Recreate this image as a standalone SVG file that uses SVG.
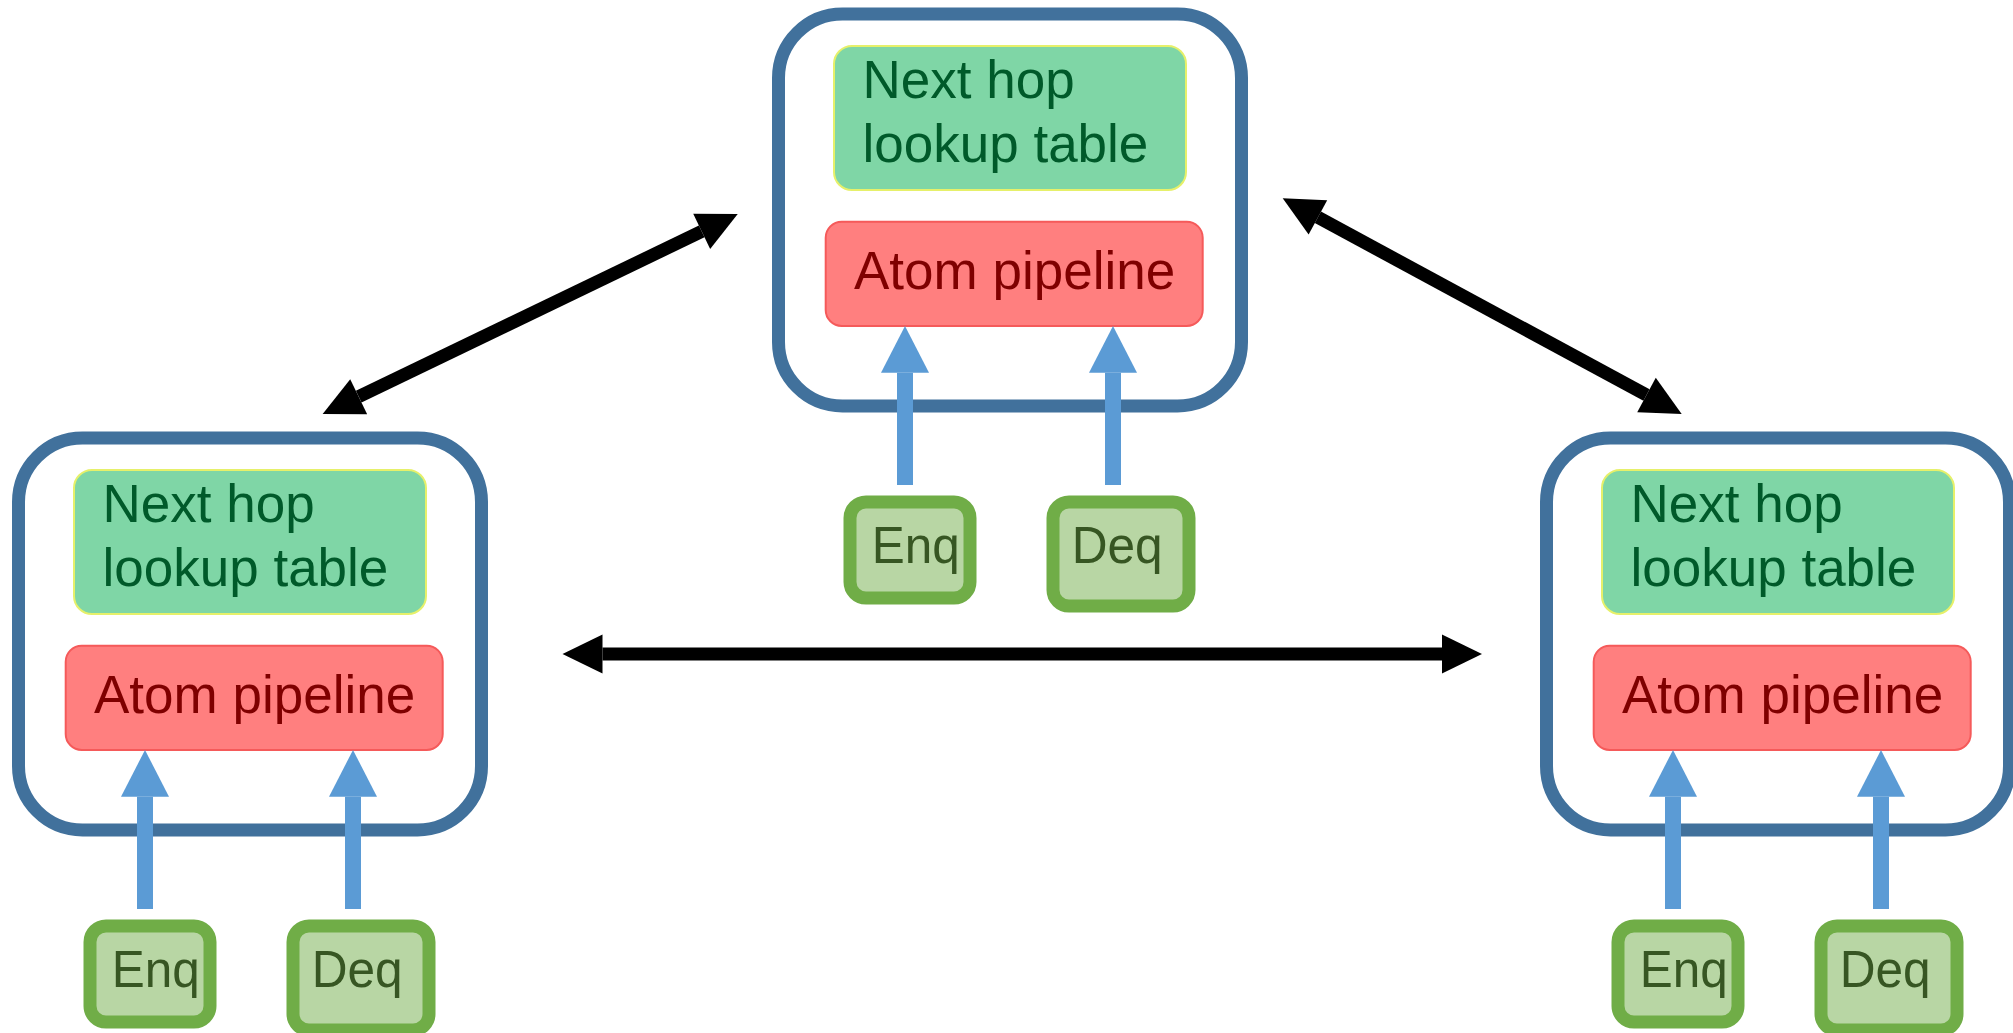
<svg xmlns="http://www.w3.org/2000/svg" width="2013" height="1033" viewBox="0 0 2013 1033">
  <style>
    .frame { fill: #ffffff; stroke: #41719c; stroke-width: 13; }
    .table { fill: #7fd6a6; stroke: #e6f06a; stroke-width: 2; }
    .pipe { fill: #ff7f7f; stroke: #f55a5a; stroke-width: 2; }
    .port { fill: #b8d6a4; stroke: #70ad47; stroke-width: 13; }
    .lbl { font-family: "Liberation Sans", Arial, Helvetica, sans-serif; }
    .t-table { font-size: 53px; fill: #005a2a; }
    .t-pipe { font-size: 53px; fill: #7f0000; }
    .t-port { font-size: 52px; fill: #375623; }
    .link { stroke: #000000; stroke-width: 13; fill: none; marker-start: url(#blackHead); marker-end: url(#blackHead); }
    .feed { stroke: #5b9bd5; stroke-width: 16; fill: none; marker-end: url(#blueHead); }
  </style>
  <defs>
    <marker id="blackHead" markerUnits="userSpaceOnUse" markerWidth="42" markerHeight="42" viewBox="0 -21 42 42" refX="0" refY="0" orient="auto-start-reverse" overflow="visible">
      <path d="M0,-19.5 L40,0 L0,19.5 Z" fill="#000000"/>
    </marker>
    <marker id="blueHead" markerUnits="userSpaceOnUse" markerWidth="48" markerHeight="50" viewBox="0 -25 48 50" refX="0" refY="0" orient="auto" overflow="visible">
      <path d="M0,-24 L46.7,0 L0,24 Z" fill="#5b9bd5"/>
    </marker>
  </defs>

  <!-- router tiles -->
  <g id="router-top" transform="translate(778.5,14)">
    <rect class="frame" x="0" y="0" width="463" height="392" rx="64"/>
    <rect class="table" x="55.5" y="32" width="352" height="144" rx="18"/>
    <text class="lbl t-table" x="84" y="84">Next hop</text>
    <text class="lbl t-table" x="84" y="148">lookup table</text>
    <rect class="pipe" x="47.2" y="207.7" width="377" height="104.3" rx="16"/>
    <text class="lbl t-pipe" x="75.5" y="275.3">Atom pipeline</text>
  </g>
  <g id="router-left" transform="translate(18.5,438)">
    <rect class="frame" x="0" y="0" width="463" height="392" rx="64"/>
    <rect class="table" x="55.5" y="32" width="352" height="144" rx="18"/>
    <text class="lbl t-table" x="84" y="84">Next hop</text>
    <text class="lbl t-table" x="84" y="148">lookup table</text>
    <rect class="pipe" x="47.2" y="207.7" width="377" height="104.3" rx="16"/>
    <text class="lbl t-pipe" x="75.5" y="275.3">Atom pipeline</text>
  </g>
  <g id="router-right" transform="translate(1546.5,438)">
    <rect class="frame" x="0" y="0" width="463" height="392" rx="64"/>
    <rect class="table" x="55.5" y="32" width="352" height="144" rx="18"/>
    <text class="lbl t-table" x="84" y="84">Next hop</text>
    <text class="lbl t-table" x="84" y="148">lookup table</text>
    <rect class="pipe" x="47.2" y="207.7" width="377" height="104.3" rx="16"/>
    <text class="lbl t-pipe" x="75.5" y="275.3">Atom pipeline</text>
  </g>

  <!-- queue ports -->
  <g id="enq-top" transform="translate(778.5,14)">
    <rect class="port" x="71.5" y="488" width="120" height="96" rx="16"/>
    <text class="lbl t-port" x="93.2" y="548.7" textLength="88" lengthAdjust="spacingAndGlyphs">Enq</text>
  </g>
  <g id="deq-top" transform="translate(778.5,14)">
    <rect class="port" x="274.5" y="488" width="136" height="104" rx="16"/>
    <text class="lbl t-port" x="293.2" y="548.7" textLength="91" lengthAdjust="spacingAndGlyphs">Deq</text>
  </g>
  <g id="enq-left" transform="translate(18.5,438)">
    <rect class="port" x="71.5" y="488" width="120" height="96" rx="16"/>
    <text class="lbl t-port" x="93.2" y="548.7" textLength="88" lengthAdjust="spacingAndGlyphs">Enq</text>
  </g>
  <g id="deq-left" transform="translate(18.5,438)">
    <rect class="port" x="274.5" y="488" width="136" height="104" rx="16"/>
    <text class="lbl t-port" x="293.2" y="548.7" textLength="91" lengthAdjust="spacingAndGlyphs">Deq</text>
  </g>
  <g id="enq-right" transform="translate(1546.5,438)">
    <rect class="port" x="71.5" y="488" width="120" height="96" rx="16"/>
    <text class="lbl t-port" x="93.2" y="548.7" textLength="88" lengthAdjust="spacingAndGlyphs">Enq</text>
  </g>
  <g id="deq-right" transform="translate(1546.5,438)">
    <rect class="port" x="274.5" y="488" width="136" height="104" rx="16"/>
    <text class="lbl t-port" x="293.2" y="548.7" textLength="91" lengthAdjust="spacingAndGlyphs">Deq</text>
  </g>

  <!-- connectors -->
  <g id="connectors">
    <line class="link" x1="358.7" y1="396.7" x2="701.7" y2="231.4"/>
    <line class="link" x1="1317.9" y1="217.3" x2="1646.5" y2="395"/>
    <line class="link" x1="602.5" y1="654" x2="1442" y2="654"/>
    <line class="feed" x1="905" y1="485" x2="905" y2="372.7"/>
    <line class="feed" x1="1113" y1="485" x2="1113" y2="372.7"/>
    <line class="feed" x1="145" y1="909" x2="145" y2="796.7"/>
    <line class="feed" x1="353" y1="909" x2="353" y2="796.7"/>
    <line class="feed" x1="1673" y1="909" x2="1673" y2="796.7"/>
    <line class="feed" x1="1881" y1="909" x2="1881" y2="796.7"/>
  </g>
</svg>
